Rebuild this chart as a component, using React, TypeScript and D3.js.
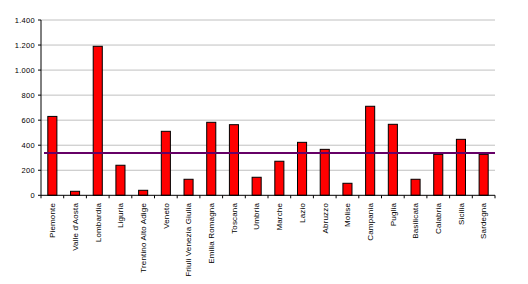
import React from "react";
import * as d3 from "d3";

const regions = ["Piemonte", "Valle d'Aosta", "Lombardia", "Liguria", "Trentino Alto Adige", "Veneto", "Friuli Venezia Giulia", "Emilia Romagna", "Toscana", "Umbria", "Marche", "Lazio", "Abruzzo", "Molise", "Campania", "Puglia", "Basilicata", "Calabria", "Sicilia", "Sardegna"];
const values = [630, 32, 1190, 240, 40, 511, 128, 583, 564, 144, 272, 423, 367, 96, 711, 567, 128, 327, 447, 327];
const average = 338;
const yTicks = [0, 200, 400, 600, 800, 1000, 1200, 1400];

const fmt = (v: number) => d3.format(",")(v).replace(/,/g, ".");

export default function App() {
  const W = 528, H = 284;
  const left = 41, right = 495, top = 20, bottom = 195.3;
  const x = d3.scaleBand<string>().domain(regions).range([left, right]).paddingInner(0.6).paddingOuter(0.3);
  const xb = d3.scaleBand<string>().domain(regions).range([left, right]);
  const y = d3.scaleLinear().domain([0, 1400]).range([bottom, top]);
  const font = "'Liberation Sans', Arial, sans-serif";
  return (
    <svg width={W} height={H} style={{ position: "absolute", left: 0, top: 0, background: "#fff" }} fontFamily={font}>
      {yTicks.filter(t => t > 0).map(t => (
        <line key={"g" + t} x1={left} x2={right} y1={y(t)} y2={y(t)} stroke="#c0c0c0" strokeWidth={1} />
      ))}
      {regions.map((r, i) => (
        <rect key={r} x={x(r)!} y={y(values[i])} width={x.bandwidth()} height={bottom - y(values[i])} fill="#ff0000" stroke="#000" strokeWidth={1} />
      ))}
      <line x1={44} x2={right} y1={y(average)} y2={y(average)} stroke="#660066" strokeWidth={2} />
      <line x1={left} x2={left} y1={top} y2={bottom} stroke="#000" />
      <line x1={left} x2={right} y1={bottom} y2={bottom} stroke="#000" />
      {yTicks.map(t => (
        <g key={"y" + t}>
          <line x1={left - 3} x2={left} y1={y(t)} y2={y(t)} stroke="#000" />
          <text x={left - 6} y={y(t)} dy="0.35em" textAnchor="end" fontSize={7.5} letterSpacing={0.3}>{fmt(t)}</text>
        </g>
      ))}
      {regions.map(r => (
        <line key={"t" + r} x1={xb(r)!} x2={xb(r)!} y1={bottom} y2={bottom + 3} stroke="#000" />
      ))}
      <line x1={right} x2={right} y1={bottom} y2={bottom + 3} stroke="#000" />
      {regions.map(r => {
        const cx = xb(r)! + xb.bandwidth() / 2;
        return (
          <text key={"l" + r} transform={`translate(${cx + 2.8},${203}) rotate(-90)`} textAnchor="end" fontSize={8} letterSpacing={0.15}>{r}</text>
        );
      })}
    </svg>
  );
}
